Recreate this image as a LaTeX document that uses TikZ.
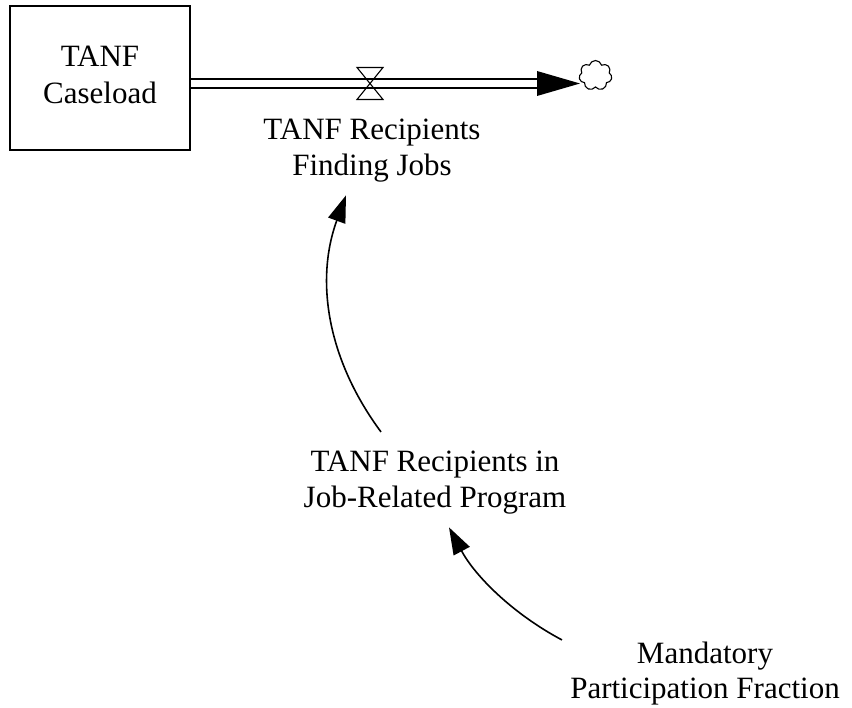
\documentclass[tikz,border=0pt]{standalone}
\usepackage{fontspec}
\setmainfont{Liberation Serif}
\usetikzlibrary{arrows.meta,shapes.symbols,calc}
% two centred lines whose baseline is the first line's
\newcommand{\stacklbl}[1]{\begin{tabular}[t]{@{}c@{}}#1\end{tabular}}
\begin{document}
\begin{tikzpicture}[x=1pt,y=-1pt,
  lbl/.style={inner sep=0pt, anchor=base, font=\fontsize{31}{35.5}\selectfont},
  stockbox/.style={draw, line width=2pt, minimum width=180pt, minimum height=144pt,
    inner sep=0pt, font=\fontsize{31}{37}\selectfont},
  pipe/.style={double, double distance=7.5pt, line width=1.5pt},
  valvestyle/.style={line width=1.1pt, line join=miter},
  sinkcloud/.style={draw, cloud, cloud puffs=7, cloud puff arc=150, aspect=1.1,
    minimum width=33pt, minimum height=30pt, inner sep=0pt, line width=1.1pt},
  link/.style={line width=1.6pt, -{Triangle[length=27pt,width=18pt]}},
]
\useasboundingbox (0,0) rectangle (852,708);

% stock
\node[stockbox] (stock) at (100,78) {\stacklbl{TANF\\Caseload}};

% outflow pipe into the sink cloud
\coordinate (sink) at (580,83.5);
\node[sinkcloud] (cloud) at (595.5,75.5) {};
\draw[pipe] (stock.east |- sink) -- ($(sink)+(-43,0)$);
\fill ($(sink)+(-43,-12.5)$) -- (sink) -- ($(sink)+(-43,12.5)$) -- cycle;

% valve
\coordinate (valve) at (370,83.5);
\draw[valvestyle] ($(valve)+(-13,-16)$) -- ($(valve)+(13,-16)$)
  -- ($(valve)+(-13,16)$) -- ($(valve)+(13,16)$) -- cycle;

% variable labels
\node[lbl] (flow) at (372,140) {\stacklbl{TANF Recipients\\Finding Jobs}};
\node[lbl] (prog) at (435,472) {\stacklbl{TANF Recipients in\\Job-Related Program}};
\node[lbl] (frac) at (705,663) {\stacklbl{Mandatory\\Participation Fraction}};

% causal links
\draw[link] ($(prog.north)+(-54,-15)$) .. controls (327,359) and (315,280) .. ($(flow.south)+(-26,9)$);
\draw[link] ($(frac.north)+(-143,2)$) .. controls (513,614) and (475,576) .. ($(prog.south)+(14,9)$);
\end{tikzpicture}
\end{document}
